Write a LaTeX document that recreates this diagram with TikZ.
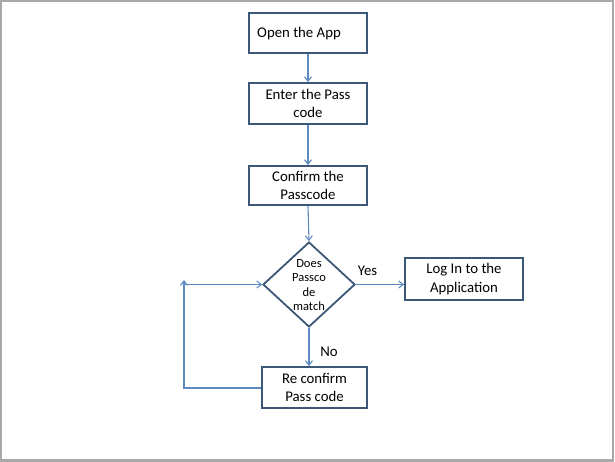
\documentclass[tikz,border=0pt]{standalone}
\usepackage{fontspec}
\setmainfont{Carlito}
\usetikzlibrary{arrows.meta,shapes.geometric}
\definecolor{boxline}{HTML}{3B5878}
\definecolor{conn}{HTML}{5E8AC2}
\definecolor{frame}{HTML}{A8A8A8}
\tikzset{
  stepbox/.style={draw=boxline, line width=1.8bp, fill=white, rectangle, inner sep=0pt,
    align=center, font=\fontsize{14.8bp}{18.5bp}\selectfont},
  decision/.style={draw=boxline, line width=1.8bp, fill=white, diamond, inner sep=0pt},
  conn/.style={draw=conn, line width=1.1bp, -{Straight Barb[length=4.5bp,width=7bp]}},
  lbl/.style={font=\fontsize{14.8bp}{18bp}\selectfont, inner sep=0pt}
}
\begin{document}
\begin{tikzpicture}[x=1bp,y=-1bp]
\useasboundingbox (0,0) rectangle (615,462);
\fill[white] (0,0) rectangle (615,462);
\draw[frame, line width=2.5bp] (0.8,1.2) rectangle (613.2,460.5);

\node[stepbox, minimum width=118bp, minimum height=40bp] (b1) at (308,33) {};
\node[lbl, anchor=west] (t1) at (257,34) {Open the App};
\node[stepbox, minimum width=118bp, minimum height=41bp] (b2) at (308,103.5) {Enter the Pass\\code};
\node[stepbox, minimum width=118bp, minimum height=39bp] (b3) at (308,185.5) {Confirm the\\Passcode};
\node[decision, minimum width=92bp, minimum height=85bp] (dia) at (309,284.5) {};
\node[align=center, inner sep=0pt, font=\fontsize{12.5bp}{14.5bp}\selectfont] (dtext) at (309,285) {Does\\Passco\\de\\match};
\node[stepbox, minimum width=118bp, minimum height=42bp] (login) at (464,279) {Log In to the\\Application};
\node[stepbox, minimum width=105bp, minimum height=41bp] (re) at (314.5,387.5) {Re confirm\\Pass code};

\node[lbl] (yes) at (367.5,271) {Yes};
\node[lbl] (no) at (329,352) {No};

\coordinate (c1) at (184,388);
\coordinate (c2) at (184,280);
\coordinate (c3) at (184,284.5);

\draw[conn] (b1.south) -- (b2.north);
\draw[conn] (b2.south) -- (b3.north);
\draw[conn] (b3.south) -- (dia.north);
\draw[conn] (dia.east) -- (dia.east -| login.west);
\draw[conn] (dia.south) -- (dia.south |- re.north);
\draw[conn] (re.west |- c1) -- (c1) -- (c2);
\draw[conn] (c3) -- (dia.west);
\end{tikzpicture}
\end{document}
